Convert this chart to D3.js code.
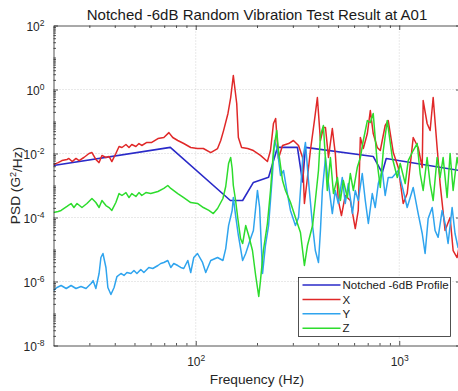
<!DOCTYPE html>
<html>
<head>
<meta charset="utf-8">
<script src="https://cdn.jsdelivr.net/npm/d3@7"></script>
<style>
  body { margin: 0; background: #fff; }
  svg { font-family: "Liberation Sans", Arial, sans-serif; }
  .axis path, .axis line { stroke: #262626; stroke-width: 0.8; }
  .axis text { fill: #262626; font-size: 12px; }
  .grid line { stroke: #c8c8c8; stroke-width: 0.8; stroke-dasharray: 1,2; }
</style>
</head>
<body>
<div id="chart"></div>
<script>
// notched test profile
var profileFreq = [20, 75, 148, 170, 192, 228, 252, 316, 335, 346, 745, 825, 863, 2000];
var profilePsd = [4.2e-3, 1.55e-2, 3.4e-4, 3.4e-4, 1.25e-3, 1.8e-3, 1.55e-2, 1.55e-2, 1.3e-3, 1.55e-2, 8.1e-3, 2.5e-3, 7.0e-3, 2.9e-3];

// X response
var xFreq = [20, 21.1, 22, 23.3, 23.8, 24.7, 25.8, 26.7, 28.2, 29.9, 30.9, 32.3, 33.5, 34.6, 36.2, 37.5, 38.7, 40.5, 42, 43.4,
  45.4, 47, 48.5, 50.8, 52.6, 54.3, 57.5, 60.8, 65.2, 69.7, 73.8, 77.1, 81.6, 87.3, 94.5, 102, 109, 118.5, 128, 132.7,
  137, 144, 148.5, 153, 159, 162, 168, 180, 192, 208, 225, 233, 241, 247, 255, 267, 286, 302, 320, 335,
  342, 354, 366, 383, 396, 410, 424, 434, 449, 469, 485, 502, 520, 543, 575, 608, 629, 644, 666, 697,
  721, 745, 780, 807, 853, 883, 935, 989, 1046, 1094, 1171, 1239, 1297, 1311, 1371, 1418, 1468, 1535, 1588, 1680,
  1778, 1840, 1924, 2000];
var xPsd = [4.5e-3, 5.2e-3, 6.0e-3, 6.5e-3, 7.0e-3, 5.6e-3, 7.0e-3, 6.0e-3, 7.5e-3, 1.0e-2, 1.07e-2, 6.5e-3, 5.2e-3, 8.7e-3, 7.5e-3, 8.1e-3, 5.6e-3, 1.0e-2, 1.66e-2, 1.54e-2,
  1.91e-2, 1.54e-2, 1.91e-2, 1.66e-2, 2.05e-2, 1.78e-2, 2.21e-2, 2.21e-2, 2.94e-2, 3.16e-2, 4.5e-2, 3.16e-2, 2.55e-2, 2.05e-2, 1.54e-2, 1.43e-2, 1.43e-2, 1.07e-2, 1.43e-2, 2.55e-2,
  5.2e-2, 0.178, 0.56, 2.74, 0.365, 0.0316, 0.0154, 0.0143, 0.0124, 8.7e-3, 5.6e-3, 0.0124, 0.087, 0.124, 7.0e-3, 0.0178, 0.0205, 0.0255, 0.0178, 7.5e-3,
  2.74e-4, 1.78e-3, 0.0124, 0.107, 0.56, 0.0255, 0.065, 0.065, 7.5e-3, 0.06, 0.01, 3.4e-4, 1.15e-4, 4.87e-4, 3.4e-4, 4.5e-5, 1.66e-4, 0.0316, 0.0143, 0.042,
  0.221, 0.042, 0.0154, 0.0124, 0.075, 0.107, 0.0107, 3.65e-3, 2.74e-4, 5.6e-4, 0.0316, 0.0154, 3.65e-3, 0.453, 0.0866, 0.0524, 0.562, 0.0154, 1.15e-3, 3.93e-5,
  1e-4, 9.3e-6, 5.6e-6, 2e-5];

// Y response
var yFreq = [20, 20.8, 21.8, 23.1, 24.4, 25.8, 27.3, 28.9, 30.6, 31.3, 32.3, 33.5, 34.2, 35, 36.2, 37, 38.3, 39.7, 41, 42.9,
  44.4, 45.9, 48, 49.7, 51.4, 53.7, 55.6, 58.8, 61.5, 65.2, 67.3, 69.7, 72.9, 75.4, 78, 81.6, 84.4, 87.3, 91.4, 94.5,
  97.8, 102, 108, 112, 118.5, 128, 136, 140.4, 145, 151, 153, 157, 162, 170, 176, 186, 192, 201, 206, 213,
  220, 228, 238, 244, 252, 261, 270, 282, 292, 309, 320, 335, 346, 358, 375, 387, 401, 410, 419, 434,
  449, 469, 485, 502, 525, 543, 562, 589, 608, 629, 658, 681, 705, 737, 762, 789, 825, 853, 883, 924,
  989, 1046, 1094, 1132, 1171, 1239, 1297, 1340, 1387, 1452, 1500, 1553, 1625, 1680, 1738, 1819, 1880, 1945, 2000];
var yPsd = [5.24e-7, 6.5e-7, 7.5e-7, 6.04e-7, 7.5e-7, 6.04e-7, 6.98e-7, 6.04e-7, 8.66e-7, 1.07e-6, 6.04e-7, 1.78e-6, 5.62e-6, 7.5e-6, 2.74e-6, 6.5e-7, 3.93e-7, 6.5e-7, 1.43e-6, 1.78e-6,
  1.54e-6, 1.91e-6, 1.78e-6, 2.21e-6, 1.78e-6, 2.37e-6, 1.91e-6, 2.74e-6, 2.55e-6, 3.16e-6, 3.65e-6, 3.93e-6, 4.53e-6, 2.74e-6, 3.65e-6, 3.16e-6, 2.74e-6, 2.55e-6, 4.53e-6, 1.91e-6,
  5.62e-6, 7.5e-6, 3.93e-6, 1.91e-6, 4.53e-6, 5.62e-6, 4.53e-6, 1.07e-5, 5.6e-5, 1.66e-4, 4.2e-4, 1.15e-4, 2.74e-5, 4.53e-6, 7.5e-6, 2.21e-5, 3.93e-5, 7.0e-4, 2.05e-4, 1.78e-6,
  1.33e-5, 5.6e-5, 2.05e-3, 0.0255, 0.0124, 2.05e-3, 2.94e-3, 5.6e-4, 1.66e-4, 5.6e-5, 1e-4, 6.0e-3, 0.0221, 1.43e-3, 5.6e-5, 9.3e-6, 3.93e-6, 3.93e-5, 7.0e-4, 7.5e-3,
  1.15e-3, 1.33e-4, 7.0e-4, 2.74e-4, 1.78e-3, 2.74e-4, 1.15e-3, 1.33e-4, 7.0e-4, 3.4e-4, 2.37e-3, 3.4e-4, 6.5e-5, 5.6e-4, 2.05e-4, 1.15e-3, 2.94e-3, 4.87e-4, 1.78e-3, 1.78e-3,
  2.94e-3, 7.0e-4, 2.05e-4, 4.2e-4, 8.7e-4, 1.33e-4, 3.16e-5, 7.5e-6, 9.3e-5, 2.05e-4, 3.93e-5, 2.4e-5, 1.66e-4, 6.5e-5, 1.54e-5, 2.05e-4, 3.16e-5, 1.15e-5, 3e-5];

// Z response
var zFreq = [20, 21.1, 21.8, 23.3, 24.4, 25.2, 26.1, 27.6, 29.2, 30.9, 32.3, 33.5, 34.6, 36.2, 37.5, 38.7, 40.5, 42, 43.4, 45.4,
  47, 48.5, 50.8, 52.6, 54.3, 56.9, 60.1, 65.2, 69.7, 72.9, 75.4, 81.6, 87.3, 94.5, 102, 109, 116, 122, 128, 136,
  140.4, 145, 148.5, 151, 153, 157, 161, 166, 170, 176, 182, 190, 197, 204, 208, 215, 225, 233, 241, 250,
  255, 267, 276, 292, 309, 327, 342, 354, 375, 387, 401, 410, 424, 443, 459, 475, 497, 514, 531, 556,
  575, 595, 622, 644, 666, 697, 721, 745, 780, 807, 835, 873, 924, 978, 1011, 1070, 1107, 1171, 1225, 1267,
  1311, 1371, 1418, 1468, 1535, 1588, 1643, 1719, 1778, 1840, 1924, 2000];
var zPsd = [1.43e-4, 1.54e-4, 1.66e-4, 2.21e-4, 2.74e-4, 2.05e-4, 2.74e-4, 2.05e-4, 2.74e-4, 3.93e-4, 2.94e-4, 2.05e-4, 3.4e-4, 2.37e-4, 2.05e-4, 1.66e-4, 2.94e-4, 5.6e-4, 4.87e-4, 6.0e-4,
  4.2e-4, 5.6e-4, 4.53e-4, 6.0e-4, 4.87e-4, 6.0e-4, 5.6e-4, 6.5e-4, 8.1e-4, 1.0e-3, 8.1e-4, 5.6e-4, 4.2e-4, 2.94e-4, 2.74e-4, 2.05e-4, 1.66e-4, 1.33e-4, 1.91e-4, 3.93e-4,
  9.3e-4, 4.87e-3, 7.5e-3, 3.4e-3, 1.0e-3, 3.4e-4, 9.3e-5, 2.21e-5, 1.54e-5, 5.6e-5, 2.74e-5, 9.3e-6, 1.54e-6, 3.4e-7, 1.07e-6, 9.3e-6, 6.5e-5, 7.0e-4, 0.0124, 0.0524,
  0.0124, 1.43e-3, 7.0e-4, 3.0e-4, 1.0e-4, 3.4e-5, 3.16e-6, 1.33e-5, 5.6e-5, 3.4e-4, 2.94e-3, 0.0365, 0.075, 7.0e-4, 7.5e-3, 5.6e-4, 1.78e-3, 3.4e-4, 1.43e-3, 4.2e-4,
  2.37e-3, 7.0e-4, 3.65e-3, 7.5e-3, 0.0255, 0.107, 0.093, 0.178, 4.87e-3, 8.7e-4, 0.0124, 0.107, 7.5e-3, 1.78e-3, 4.87e-3, 1.15e-3, 6.0e-3, 0.0124, 0.0205, 2.37e-3,
  7.0e-4, 7.5e-3, 1.15e-3, 3.4e-4, 7.5e-3, 1.78e-3, 7.5e-3, 4.2e-4, 0.01, 7.0e-4, 7.5e-3, 2e-3];

var seriesNames = ["Notched -6dB Profile", "X", "Y", "Z"];
var seriesColors = ["#2a2ac8", "#e02828", "#2fa4ee", "#2ddc2d"];

var xMajorTicks = [100, 1000];
var yMajorTicks = [1e-8, 1e-6, 1e-4, 1e-2, 1, 1e2];

var width = 458, height = 391;
var margin = { top: 25.5, left: 53.5, bottom: 45.5, right: -2.5 };
var plotW = width - margin.left - margin.right;
var plotH = height - margin.top - margin.bottom;

var svg = d3.select("#chart").append("svg")
  .attr("width", width)
  .attr("height", height);

var xScale = d3.scaleLog().domain([20, 2000]).range([margin.left, margin.left + plotW]);
var yScale = d3.scaleLog().domain([1e-8, 1e2]).range([margin.top + plotH, margin.top]);

// minor ticks: 2..9 of every decade, plus the unlabeled decades on y
var xMinor = [];
[10, 100, 1000].forEach(function (dec) {
  for (var m = 2; m <= 9; m++) {
    var v = dec * m;
    if (v > 20 && v <= 2000) xMinor.push(v);
  }
});
var yMinor = [];
for (var e = -8; e < 2; e++) {
  for (var m = 1; m <= 9; m++) {
    var v = m * Math.pow(10, e);
    if (m === 1 && e % 2 === 0) continue;
    yMinor.push(v);
  }
}

// grid
svg.append("g").attr("class", "grid")
  .selectAll("line").data(xMajorTicks).enter().append("line")
  .attr("x1", function (d) { return xScale(d); })
  .attr("x2", function (d) { return xScale(d); })
  .attr("y1", margin.top).attr("y2", margin.top + plotH);
svg.append("g").attr("class", "grid")
  .selectAll("line").data(yMajorTicks.slice(1, -1)).enter().append("line")
  .attr("y1", function (d) { return yScale(d); })
  .attr("y2", function (d) { return yScale(d); })
  .attr("x1", margin.left).attr("x2", margin.left + plotW);

// lines
svg.append("clipPath").attr("id", "plotClip")
  .append("rect")
  .attr("x", margin.left).attr("y", margin.top)
  .attr("width", plotW).attr("height", plotH);

var line = d3.line()
  .x(function (d) { return xScale(d[0]); })
  .y(function (d) { return yScale(d[1]); });

var series = [
  d3.zip(profileFreq, profilePsd),
  d3.zip(xFreq, xPsd),
  d3.zip(yFreq, yPsd),
  d3.zip(zFreq, zPsd)
];

svg.append("g").attr("clip-path", "url(#plotClip)")
  .selectAll("path").data(series).enter().append("path")
  .attr("d", line)
  .attr("fill", "none")
  .attr("stroke", function (d, i) { return seriesColors[i]; })
  .attr("stroke-width", function (d, i) { return i === 0 ? 1.6 : 1.5; })
  .attr("stroke-linejoin", "round");

// axes, ticks pointing inwards
function expLabel(sel) {
  sel.each(function (d) {
    var t = d3.select(this).text(null);
    t.append("tspan").text("10");
    t.append("tspan").attr("dy", "-0.55em").style("font-size", "8.5px")
      .text(Math.round(Math.log10(d)));
  });
}

var xAxisBottom = svg.append("g").attr("class", "axis")
  .attr("transform", "translate(0," + (margin.top + plotH) + ")")
  .call(d3.axisBottom(xScale).tickValues(xMajorTicks).tickSize(-4.5).tickPadding(12).tickSizeOuter(0));
xAxisBottom.selectAll(".tick text").call(expLabel);
xAxisBottom.append("g")
  .call(d3.axisBottom(xScale).tickValues(xMinor).tickSize(-2.5).tickFormat("").tickSizeOuter(0))
  .select(".domain").remove();

var xAxisTop = svg.append("g").attr("class", "axis")
  .attr("transform", "translate(0," + margin.top + ")")
  .call(d3.axisTop(xScale).tickValues(xMajorTicks).tickSize(-4.5).tickFormat("").tickSizeOuter(0));
xAxisTop.append("g")
  .call(d3.axisTop(xScale).tickValues(xMinor).tickSize(-2.5).tickFormat("").tickSizeOuter(0))
  .select(".domain").remove();

var yAxisLeft = svg.append("g").attr("class", "axis")
  .attr("transform", "translate(" + margin.left + ",0)")
  .call(d3.axisLeft(yScale).tickValues(yMajorTicks).tickSize(-4.5).tickPadding(9).tickSizeOuter(0));
yAxisLeft.selectAll(".tick text").attr("dy", "0.4em").call(expLabel);
yAxisLeft.append("g")
  .call(d3.axisLeft(yScale).tickValues(yMinor).tickSize(-2.5).tickFormat("").tickSizeOuter(0))
  .select(".domain").remove();

svg.append("g").attr("class", "axis")
  .attr("transform", "translate(" + (margin.left + plotW) + ",0)")
  .call(d3.axisRight(yScale).tickValues(yMajorTicks).tickSize(-4.5).tickFormat("").tickSizeOuter(0));

// titles
svg.append("text")
  .attr("x", margin.left + plotW / 2).attr("y", 20)
  .attr("text-anchor", "middle")
  .style("font-size", "15px").style("fill", "#1a1a1a")
  .text("Notched -6dB Random Vibration Test Result at A01");

svg.append("text")
  .attr("x", margin.left + plotW / 2).attr("y", 384)
  .attr("text-anchor", "middle")
  .style("font-size", "13.7px").style("fill", "#262626")
  .text("Frequency (Hz)");

var yLabel = svg.append("text")
  .attr("transform", "translate(20," + (margin.top + plotH / 2) + ") rotate(-90)")
  .attr("text-anchor", "middle")
  .style("font-size", "13.7px").style("fill", "#262626");
yLabel.append("tspan").text("PSD (G");
yLabel.append("tspan").attr("dy", "-0.45em").style("font-size", "9px").text("2");
yLabel.append("tspan").attr("dy", "0.45em").text("/Hz)");

// legend
var legend = svg.append("g").attr("transform", "translate(298.5,277.5)");
legend.append("rect")
  .attr("width", 152).attr("height", 59)
  .attr("fill", "#fff").attr("stroke", "#262626").attr("stroke-width", 0.8);
var item = legend.selectAll(".item").data(seriesNames).enter().append("g")
  .attr("transform", function (d, i) { return "translate(0," + (7.5 + i * 14.4) + ")"; });
item.append("line")
  .attr("x1", 4).attr("x2", 42)
  .attr("stroke", function (d, i) { return seriesColors[i]; })
  .attr("stroke-width", 1.5);
item.append("text")
  .attr("x", 44).attr("dy", "0.36em")
  .style("font-size", "11.5px").style("fill", "#1a1a1a")
  .text(function (d) { return d; });
</script>
</body>
</html>
